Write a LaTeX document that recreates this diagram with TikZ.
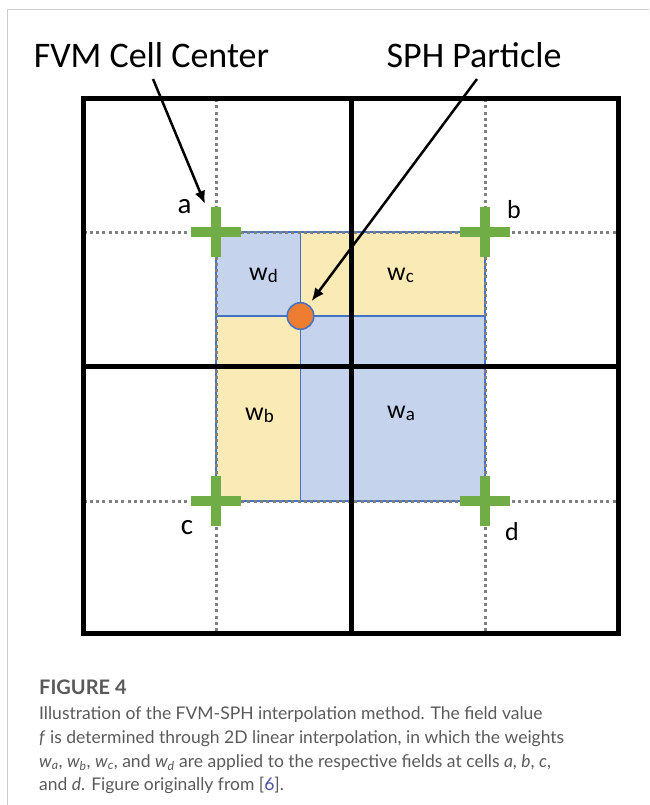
\documentclass[tikz,border=0pt]{standalone}
\usepackage{fontspec}
\setmainfont{Carlito}
\newfontfamily\capfont{Lato}
\usetikzlibrary{arrows.meta}
\definecolor{cblue}{HTML}{C5D3EC}
\definecolor{cyellow}{HTML}{FAEAB5}
\definecolor{cgreen}{HTML}{70AD47}
\definecolor{corange}{HTML}{ED7D31}
\definecolor{cline}{HTML}{4472C4}
\definecolor{cdot}{HTML}{808080}
\definecolor{cframe}{HTML}{CCCCCC}
\definecolor{ccap}{HTML}{5A5A5A}
\definecolor{clink}{HTML}{4A4FA8}
\tikzset{
  frameline/.style={draw=cframe, line width=1pt},
  gridline/.style={draw=black, line width=5pt, line join=miter},
  dotline/.style={draw=cdot, line width=3pt, dash pattern=on 3pt off 3.3pt},
  bline/.style={draw=cline, line width=1.4pt},
  plusmark/.style={draw=cgreen, line width=10pt, line cap=butt},
  particle/.style={circle, fill=corange, draw=cline, line width=1.5pt, minimum size=26.6pt, inner sep=0pt},
  arr/.style={draw=black, line width=2.5pt, -{Latex[length=13pt,width=11pt]}},
  title/.style={font=\fontsize{36}{40}\selectfont, inner sep=0pt, anchor=base},
  lbl/.style={inner sep=0pt, anchor=base},
  wlbl/.style={inner sep=0pt, anchor=base west},
  captxt/.style={inner sep=0pt, anchor=base west, text=ccap, font=\capfont\fontsize{17.5}{20}\selectfont},
}
\newcommand{\wsub}[1]{{\fontsize{26}{26}\selectfont w\raisebox{-2.5pt}{\fontsize{19}{19}\selectfont #1}}}
\begin{document}
\begin{tikzpicture}[x=1pt,y=-1pt]
\useasboundingbox (0,0) rectangle (649,805);
\fill[white] (0,0) rectangle (649,805);
\draw[frameline] (7,805) -- (7,10) -- (649,10);

% key points
\coordinate (pa) at (216,232);
\coordinate (pb) at (485,232);
\coordinate (pc) at (216,501);
\coordinate (pd) at (485,501);
\coordinate (pp) at (300.5,316);
\coordinate (gtl) at (83.5,99);
\coordinate (gbr) at (618.5,633.5);
\coordinate (gc) at (351.5,366.5);

% weight areas
\fill[cblue] (pa) rectangle (pp);
\fill[cyellow] (pp |- pa) rectangle (pb |- pp);
\fill[cyellow] (pa |- pp) rectangle (pp |- pc);
\fill[cblue] (pp) rectangle (pd);
\draw[bline] (pa) rectangle (pd);
\draw[bline] (pp |- pa) -- (pp |- pc);
\draw[bline] (pa |- pp) -- (pd |- pp);

% dotted cell-center lines
\draw[dotline] (pa |- gtl) -- (pa |- gbr);
\draw[dotline] (pb |- gtl) -- (pb |- gbr);
\draw[dotline] (gtl |- pa) -- (gbr |- pa);
\draw[dotline] (gtl |- pc) -- (gbr |- pc);

% FVM grid
\draw[gridline] (gtl) rectangle (gbr);
\draw[gridline] (gc |- gtl) -- (gc |- gbr);
\draw[gridline] (gtl |- gc) -- (gbr |- gc);

% cell centers
\foreach \p in {pa,pb,pc,pd}
  \draw[plusmark] (\p) +(-25,0) -- +(25,0) +(0,-25) -- +(0,25);

% particle
\node[particle] (p) at (pp) {};

% labels
\node[lbl, font=\fontsize{29}{30}\selectfont] (la) at (184.5,213) {a};
\node[lbl, font=\fontsize{26}{28}\selectfont] (lb) at (514,218) {b};
\node[lbl, font=\fontsize{29}{30}\selectfont] (lc) at (187,534) {c};
\node[lbl, font=\fontsize{26}{28}\selectfont] (ld) at (512,540) {d};

\node[wlbl] (wd) at (249,280) {\wsub{d}};
\node[wlbl] (wc) at (387,280) {\wsub{c}};
\node[wlbl] (wb) at (245,420) {\wsub{b}};
\node[wlbl] (wa) at (387,418) {\wsub{a}};

% titles and arrows
\node[title] (fvm) at (151.5,68) {FVM Cell Center};
\node[title] (sph) at (474,68) {SPH Particle};
\coordinate (fvmstart) at (153,79);
\coordinate (fvmtip) at (205,204);
\coordinate (sphstart) at (477,79);
\draw[arr] (fvmstart) -- (fvmtip);
\draw[arr, shorten >=4.5pt] (sphstart) -- (p);

% caption
\node[captxt, font=\capfont\bfseries\fontsize{20}{22}\selectfont] (cap0) at (39,694) {FIGURE 4};
\node[captxt] (cap1) at (39,719) {Illustration of the FVM-SPH interpolation method. The field value};
\node[captxt] (cap2) at (39,743) {\textit{f} is determined through 2D linear interpolation, in which the weights};
\node[captxt] (cap3) at (39,767) {\textit{w\textsubscript{a}}, \textit{w\textsubscript{b}}, \textit{w\textsubscript{c}}, and \textit{w\textsubscript{d}} are applied to the respective fields at cells \textit{a}, \textit{b}, \textit{c},};
\node[captxt] (cap4) at (39,790) {and \textit{d}. Figure originally from [\textcolor{clink}{6}].};
\end{tikzpicture}
\end{document}
